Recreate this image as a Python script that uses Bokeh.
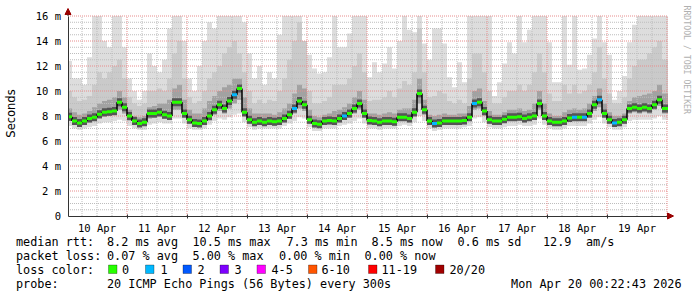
import math
from bokeh.plotting import figure
from bokeh.models import Range1d, FixedTicker, Label, Arrow, NormalHead, BoxAnnotation, ColumnDataSource
from bokeh.embed import file_html
from bokeh.resources import INLINE

# ---- data (hours since 10 Apr 00:00, one step = 2 h) ----
hours = list(range(0, 240, 2))
t_start, t_end = 0.4, 240.4

median = [7.95, 7.6, 7.45, 7.6, 7.8, 7.9, 8.15, 8.3, 8.35, 8.4,
          9.1, 8.7, 8.0, 7.6, 7.4, 7.5, 8.2, 8.2, 8.3, 8.1,
          8.0, 9.1, 9.1, 8.2, 7.7, 7.45, 7.4, 7.6, 8.0, 8.5,
          8.9, 8.6, 9.2, 9.7, 10.2, 8.3, 7.7, 7.5, 7.6, 7.5,
          7.6, 7.55, 7.6, 7.8, 8.1, 8.6, 9.2, 8.9, 7.7, 7.4,
          7.35, 7.6, 7.65, 7.6, 7.8, 8.0, 8.2, 8.6, 9.0, 8.2,
          7.65, 7.6, 7.5, 7.6, 7.6, 7.55, 7.9, 7.9, 7.8, 8.3,
          9.8, 8.5, 7.6, 7.4, 7.45, 7.6, 7.6, 7.6, 7.6, 7.65,
          7.9, 9.0, 9.1, 8.4, 7.7, 7.6, 7.6, 7.75, 7.9, 7.9,
          7.95, 7.8, 7.9, 8.0, 9.0, 8.0, 7.6, 7.5, 7.5, 7.6,
          7.85, 7.9, 7.9, 7.9, 8.2, 8.9, 9.3, 8.2, 7.7, 7.45,
          7.5, 7.7, 8.6, 8.7, 8.6, 8.7, 8.6, 8.9, 9.3, 8.6]

smoke_max = [12.4, 11.0, 11.0, 10.5, 12.7, 16.0, 16.0, 14.0, 13.5, 16.0,
             16.0, 13.5, 11.0, 10.0, 9.3, 10.0, 13.0, 12.0, 11.5, 12.5,
             15.0, 16.0, 16.0, 14.0, 11.0, 10.0, 12.0, 14.0, 15.5, 15.0,
             16.0, 16.0, 16.0, 16.0, 16.0, 15.5, 13.0, 11.0, 12.0, 10.5,
             11.5, 11.0, 14.5, 16.0, 16.0, 16.0, 16.0, 13.0, 12.9, 11.8,
             11.4, 11.5, 12.7, 16.0, 13.5, 13.5, 14.6, 16.0, 16.0, 16.0,
             11.1, 12.3, 11.5, 12.2, 13.5, 11.8, 14.0, 16.0, 14.9, 14.7,
             16.0, 13.8, 12.5, 15.0, 15.0, 13.8, 11.1, 10.3, 12.3, 10.7,
             16.0, 16.0, 16.0, 16.0, 16.0, 9.6, 10.7, 12.2, 13.9, 13.0,
             16.0, 13.9, 14.9, 16.0, 16.0, 16.0, 13.9, 10.7, 10.7, 16.0,
             12.1, 16.0, 11.7, 11.8, 12.9, 14.2, 16.0, 13.9, 12.9, 9.3,
             10.0, 11.2, 13.9, 15.3, 16.0, 16.0, 16.0, 16.0, 16.0, 16.0]

smoke_mid = [10.0, 9.5, 9.2, 9.3, 9.6, 10.5, 11.5, 11.0, 11.5, 12.0,
             12.5, 11.0, 9.5, 9.0, 8.8, 9.0, 10.0, 10.0, 10.2, 10.0,
             11.0, 13.0, 14.0, 11.0, 9.5, 9.0, 9.2, 10.0, 11.0, 11.5,
             12.0, 13.0, 13.5, 14.0, 13.0, 11.5, 10.0, 9.0, 9.3, 9.0,
             9.3, 9.2, 10.0, 11.0, 12.5, 14.0, 15.5, 14.0, 10.0, 9.0,
             9.0, 9.2, 9.5, 10.5, 10.5, 10.5, 11.0, 12.0, 13.0, 11.5,
             9.2, 9.3, 9.3, 9.5, 10.0, 9.5, 10.2, 10.8, 10.5, 11.5,
             15.0, 11.5, 9.5, 9.6, 10.0, 9.8, 9.2, 9.0, 9.3, 9.0,
             11.0, 13.0, 13.0, 11.5, 10.0, 9.0, 9.0, 9.5, 10.0, 10.0,
             10.5, 10.0, 10.5, 11.5, 13.0, 11.5, 9.8, 9.2, 9.2, 10.5,
             9.8, 10.5, 9.8, 10.0, 10.5, 11.5, 13.5, 11.0, 9.8, 9.0,
             9.0, 9.5, 11.0, 12.0, 12.5, 12.5, 13.0, 13.5, 14.0, 12.5]

smoke_dark = [8.6, 8.3, 8.1, 8.2, 8.4, 8.7, 9.0, 9.2, 9.3, 9.5,
              10.0, 9.5, 8.5, 8.0, 7.9, 8.0, 8.7, 8.8, 9.0, 9.0,
              9.3, 10.2, 10.5, 9.3, 8.5, 8.2, 8.2, 8.6, 9.2, 9.6,
              10.0, 10.3, 10.5, 11.0, 11.0, 9.5, 8.6, 8.2, 8.2, 8.2,
              8.2, 8.1, 8.3, 8.6, 9.0, 9.8, 10.5, 10.2, 8.5, 8.0,
              7.9, 8.1, 8.2, 8.4, 8.5, 8.7, 9.0, 9.5, 10.0, 9.3,
              8.2, 8.2, 8.1, 8.2, 8.3, 8.2, 8.5, 8.6, 8.6, 9.3,
              11.0, 9.3, 8.1, 8.0, 8.1, 8.2, 8.1, 8.1, 8.2, 8.2,
              8.8, 10.0, 10.2, 9.2, 8.4, 8.1, 8.1, 8.3, 8.5, 8.5,
              8.6, 8.4, 8.5, 9.0, 10.0, 9.0, 8.2, 8.0, 8.0, 8.3,
              8.5, 8.6, 8.5, 8.6, 9.0, 9.6, 10.2, 9.0, 8.3, 8.0,
              8.0, 8.2, 9.2, 9.5, 9.6, 9.7, 9.8, 10.0, 10.5, 9.8]

smoke_min = [7.2, 7.0, 6.9, 7.0, 7.1, 7.2, 7.4, 7.5, 7.5, 7.6,
             7.7, 7.6, 7.2, 7.0, 6.9, 6.9, 7.3, 7.4, 7.5, 7.4,
             7.4, 7.8, 7.8, 7.4, 7.0, 6.9, 6.9, 7.0, 7.3, 7.6,
             7.8, 7.7, 7.9, 8.1, 8.2, 7.5, 7.1, 6.9, 7.0, 7.0,
             7.0, 7.0, 7.0, 7.2, 7.4, 7.6, 7.9, 7.8, 7.1, 6.8,
             6.8, 7.0, 7.0, 7.0, 7.2, 7.3, 7.4, 7.6, 7.8, 7.4,
             7.0, 7.0, 6.9, 7.0, 7.0, 7.0, 7.2, 7.3, 7.2, 7.5,
             8.0, 7.6, 7.0, 6.8, 6.9, 7.0, 7.0, 7.0, 7.0, 7.1,
             7.2, 7.8, 7.9, 7.5, 7.1, 7.0, 7.0, 7.1, 7.2, 7.2,
             7.3, 7.2, 7.2, 7.3, 7.8, 7.3, 7.0, 6.9, 6.9, 7.0,
             7.2, 7.2, 7.2, 7.2, 7.4, 7.7, 7.9, 7.4, 7.1, 6.9,
             6.9, 7.1, 7.6, 7.7, 7.7, 7.7, 7.7, 7.8, 8.0, 7.7]

smoke_low_in = [7.6, 7.3, 7.2, 7.3, 7.5, 7.6, 7.8, 7.95, 8.0, 8.05,
                8.5, 8.2, 7.65, 7.3, 7.15, 7.2, 7.8, 7.85, 7.95, 7.8,
                7.7, 8.5, 8.5, 7.85, 7.4, 7.2, 7.15, 7.3, 7.65, 8.1,
                8.4, 8.2, 8.6, 9.0, 9.3, 7.95, 7.4, 7.2, 7.3, 7.25,
                7.3, 7.25, 7.3, 7.5, 7.8, 8.2, 8.6, 8.4, 7.4, 7.1,
                7.05, 7.3, 7.35, 7.3, 7.5, 7.7, 7.85, 8.2, 8.5, 7.85,
                7.35, 7.3, 7.2, 7.3, 7.3, 7.25, 7.6, 7.6, 7.5, 7.95,
                9.0, 8.1, 7.3, 7.1, 7.15, 7.3, 7.3, 7.3, 7.3, 7.35,
                7.6, 8.5, 8.6, 8.0, 7.4, 7.3, 7.3, 7.45, 7.6, 7.6,
                7.65, 7.5, 7.6, 7.7, 8.5, 7.7, 7.3, 7.2, 7.2, 7.3,
                7.55, 7.6, 7.6, 7.6, 7.85, 8.4, 8.7, 7.85, 7.4, 7.15,
                7.2, 7.4, 8.2, 8.3, 8.2, 8.3, 8.2, 8.5, 8.8, 8.2]

loss = [0] * 120
for i in [33, 45, 55, 73, 81, 101, 103, 106, 109]:
    loss[i] = 1

day_labels = ["10 Apr", "11 Apr", "12 Apr", "13 Apr", "14 Apr",
              "15 Apr", "16 Apr", "17 Apr", "18 Apr", "19 Apr"]
y_ticks = [0, 2, 4, 6, 8, 10, 12, 14, 16]
y_labels = ["0", "2 m", "4 m", "6 m", "8 m", "10 m", "12 m", "14 m", "16 m"]

legend_keys = ["0", "1", "2", "3", "4-5", "6-10", "11-19", "20/20"]
legend_colors = ["#26ff00", "#00b8ff", "#0059ff", "#7e00ff", "#ff00ff", "#ff5500", "#ff0000", "#a10000"]

W, H = 697, 297
MONO = "DejaVu Sans Mono"

# frame covers the whole canvas; axes are pinned with fixed_location
p = figure(width=W, height=H, x_range=Range1d(-26.6, 252.2), y_range=Range1d(-6.52, 17.24),
           output_backend="svg", toolbar_location=None,
           min_border=0, min_border_left=0, min_border_right=0, min_border_top=0, min_border_bottom=0)
p.outline_line_color = None
p.background_fill_color = "white"
p.border_fill_color = "white"
p.grid.visible = False

lefts = [max(h, t_start) for h in hours]
rights = hours[1:] + [t_end]
src = ColumnDataSource(dict(
    left=lefts, right=rights,
    mx=smoke_max, mid=smoke_mid, dk=smoke_dark, lo=smoke_min, lo_in=smoke_low_in, med=median,
    col=["#26ff00" if l == 0 else "#00b8ff" for l in loss]))

p.quad(left="left", right="right", bottom="lo", top="mx", source=src, fill_color="#dddddd", line_color=None)
p.quad(left="left", right="right", bottom="lo_in", top="mid", source=src, fill_color="#cacaca", line_color=None)
p.quad(left="left", right="right", bottom="lo_in", top="dk", source=src, fill_color="#a2a2a2", line_color=None)

# grid (dotted, drawn over the smoke)
major_x = [24 * k for k in range(1, 11)]
minor_x = [6 * k for k in range(1, 40) if k % 4 != 0]
major_y = [2 * k for k in range(1, 9)]
minor_y = [0.5 * k for k in range(1, 32) if k % 4 != 0]
p.segment(x0=minor_x, x1=minor_x, y0=[0] * len(minor_x), y1=[16] * len(minor_x),
          line_color="#bdbdbd", line_width=1, line_dash="1 1")
p.segment(x0=[t_start] * len(minor_y), x1=[t_end] * len(minor_y), y0=minor_y, y1=minor_y,
          line_color="#bdbdbd", line_width=1, line_dash="1 1")
p.segment(x0=major_x, x1=major_x, y0=[0] * len(major_x), y1=[16] * len(major_x),
          line_color="#e88c8c", line_width=1, line_dash="1 1")
p.segment(x0=[t_start] * len(major_y), x1=[t_end] * len(major_y), y0=major_y, y1=major_y,
          line_color="#e88c8c", line_width=1, line_dash="1 1")

# median line, coloured by loss
p.segment(x0="left", x1="right", y0="med", y1="med", source=src, line_color="#555555", line_width=8)
p.segment(x0=rights[:-1], x1=rights[:-1], y0=median[:-1], y1=median[1:], line_color="black", line_width=1.5)
p.segment(x0="left", x1="right", y0="med", y1="med", source=src, line_color="col", line_width=3)

# axes
noons = [24 * k + 12 for k in range(10)]
p.xaxis.fixed_location = 0
p.yaxis.fixed_location = t_start
p.xaxis.bounds = (t_start, t_end)
p.yaxis.bounds = (0, 16)
p.xaxis.ticker = FixedTicker(ticks=noons, minor_ticks=major_x)
p.xaxis.major_label_overrides = {n: l for n, l in zip(noons, day_labels)}
p.xaxis.major_tick_out = 0
p.xaxis.major_tick_in = 0
p.xaxis.minor_tick_in = 2
p.xaxis.minor_tick_out = 2
p.xaxis.minor_tick_line_color = "#333333"
p.xaxis.major_label_standoff = 4
p.yaxis.ticker = FixedTicker(ticks=y_ticks)
p.yaxis.major_label_overrides = {t: l for t, l in zip(y_ticks, y_labels)}
p.yaxis.major_tick_in = 0
p.yaxis.major_tick_out = 2
p.yaxis.minor_tick_line_color = None
p.yaxis.major_label_standoff = 5
for ax in (p.xaxis, p.yaxis):
    ax.axis_line_color = "#333333"
    ax.major_tick_line_color = "#333333" if ax is p.yaxis else None
    ax.major_label_text_font = MONO
    ax.major_label_text_font_size = "10.5px"
    ax.major_label_text_color = "black"

p.add_layout(Arrow(end=NormalHead(size=6, fill_color="#990000", line_color="#990000", line_width=1),
                   x_start=t_start, y_start=16, x_end=t_start, y_end=16.6, line_color="#333333"))
p.add_layout(Arrow(end=NormalHead(size=6, fill_color="#990000", line_color="#990000", line_width=1),
                   x_start=t_end, y_start=0, x_end=242.6, y_end=0, line_color="#333333"))


def txt(x, y, s, size="11.8px", color="black", align="left", angle=0.0, font=MONO):
    p.add_layout(Label(x=x, y=H - y, x_units="screen", y_units="screen", text=s,
                       text_font=font, text_font_size=size, text_color=color,
                       text_align=align, text_baseline="middle", angle=angle))


txt(10, 113, "Seconds", size="11.5px", align="center", angle=math.pi / 2, font="DejaVu Sans")
txt(686, 5, "RRDTOOL / TOBI OETIKER", size="8.2px", color="#b0b0b0", angle=-math.pi / 2)

row1 = [(15.5, "median rtt:"), (106.5, "8.2 ms avg"), (192, "10.5 ms max"), (286, "7.3 ms min"),
        (371, "8.5 ms now"), (457, "0.6 ms sd"), (542.5, "12.9"), (585.5, "am/s")]
row2 = [(15.5, "packet loss:"), (106.5, "0.07 % avg"), (192, "5.00 % max"), (278.5, "0.00 % min"),
        (364, "0.00 % now")]
for x, s in row1:
    txt(x, 241, s)
for x, s in row2:
    txt(x, 255, s)
txt(15.5, 269, "loss color:")
sw_x = [108, 145, 182.5, 219.5, 256.5, 308, 368, 435]
tx_x = [121.5, 160, 197, 234, 271, 321, 381, 449]
for sx, tx, k, c in zip(sw_x, tx_x, legend_keys, legend_colors):
    p.add_layout(BoxAnnotation(left=sx, right=sx + 8.5, bottom=H - 273, top=H - 264.5,
                               left_units="screen", right_units="screen",
                               bottom_units="screen", top_units="screen",
                               fill_color=c, fill_alpha=1, line_color="black", line_width=1,
                               level="overlay"))
    txt(tx, 269, k)
txt(15.5, 283, "probe:")
txt(106.5, 283, "20 ICMP Echo Pings (56 Bytes) every 300s")
txt(681, 283, "Mon Apr 20 00:22:43 2026", align="right")

open("out.html", "w").write(file_html(p, INLINE))
